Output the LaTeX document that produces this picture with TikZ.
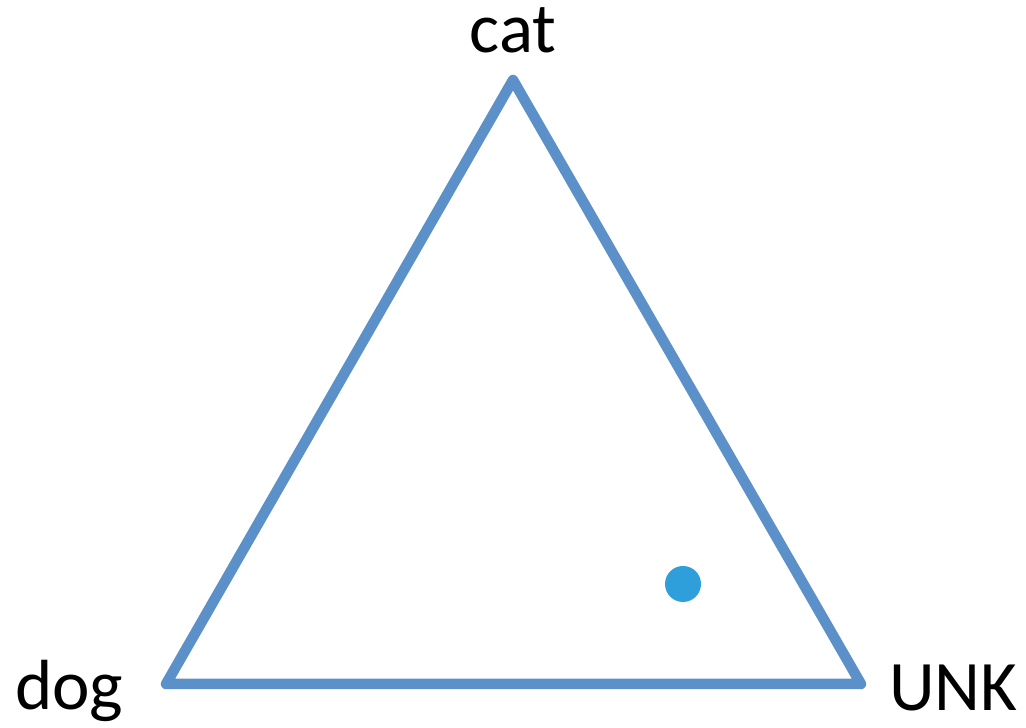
\documentclass[tikz,border=0pt]{standalone}
\usepackage{fontspec}
\setmainfont{Carlito}
\usetikzlibrary{positioning}
\definecolor{edgeblue}{HTML}{5B91C8}
\definecolor{dotblue} {HTML}{2F9FDC}
\tikzset{
  % --- nodes
  vlbl/.style  = {inner sep=0pt, font=\fontsize{71}{85}\selectfont, text=black},
  vert/.style  = {coordinate},
  % --- edges
  side/.style  = {draw=edgeblue, line width=10.5pt, line join=round, line cap=round},
  pt/.style    = {circle, fill=dotblue, minimum size=36pt, inner sep=0pt},
}
\begin{document}
\begin{tikzpicture}[x=1pt,y=1pt]
  \useasboundingbox (0,0) rectangle (1026,728);
  \node[vert] (top) at (513,648) {};
  \node[vert] (left) at (166,44) {};
  \node[vert] (right) at (861,44) {};

  \draw[side] (top) -- (left) -- (right) -- cycle;

  \node[vlbl, anchor=base] (cat) at (513,675) {cat};
  \node[vlbl, anchor=base west] (dog) at (15,18) {dog};
  \node[vlbl, anchor=base west] (unk) at (889,17) {UNK};

  \node[pt] (sample) at (683,144) {};
\end{tikzpicture}
\end{document}
